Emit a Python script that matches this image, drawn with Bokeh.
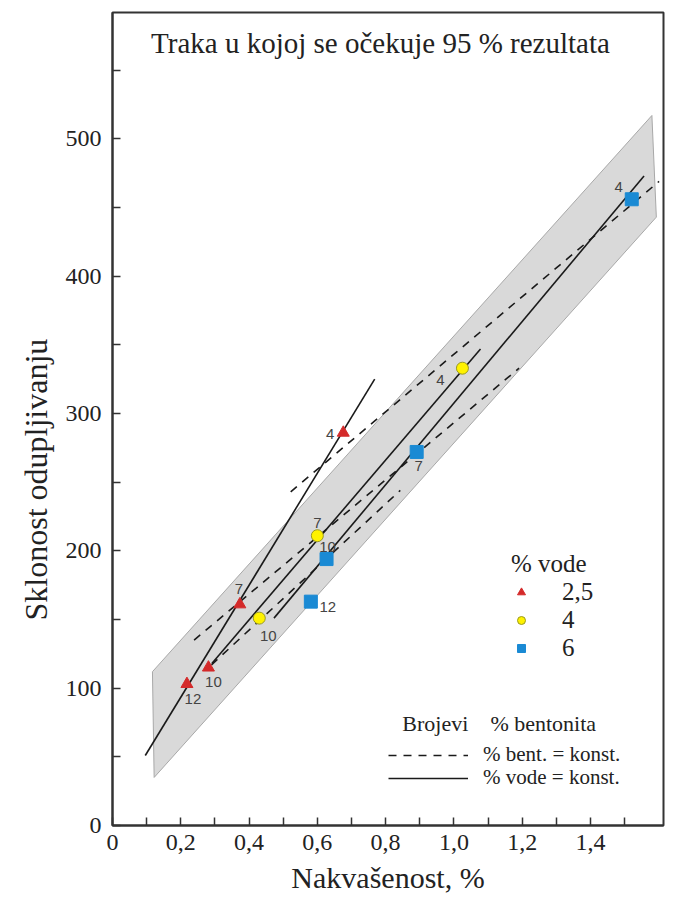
from bokeh.plotting import figure
from bokeh.models import (ColumnDataSource, FixedTicker, CustomJSTickFormatter,
                          Legend, LegendItem, Label, Range1d, Title)
from bokeh.core.properties import value
from bokeh.embed import file_html
from bokeh.resources import INLINE

# ---------------- data ----------------
band_x = [0.117, 1.580, 1.593, 0.122]
band_y = [112, 517, 443, 35]

red_x = [0.676, 0.373, 0.281, 0.218]        # 2,5 % vode
red_y = [286, 161, 115, 103]
red_bent = ["4", "7", "10", "12"]

yellow_x = [1.025, 0.600, 0.430]            # 4 % vode
yellow_y = [333, 211, 151]
yellow_bent = ["4", "7", "10"]

blue_x = [1.521, 0.891, 0.627, 0.581]       # 6 % vode
blue_y = [456, 272, 194, 163]
blue_bent = ["4", "7", "10", "12"]

# % vode = konst. (solid)
water_line_x = [[0.096, 0.768], [0.291, 1.078], [0.473, 1.557]]
water_line_y = [[51, 325], [118, 347], [151, 473]]
# % bent. = konst. (dashed)
bent_line_x = [[0.522, 1.601], [0.239, 1.191], [0.290, 0.843]]
bent_line_y = [[243, 469], [135, 333], [117, 244]]

x_ticks = [0, 0.2, 0.4, 0.6, 0.8, 1.0, 1.2, 1.4]
x_minor = [0.1, 0.3, 0.5, 0.7, 0.9, 1.1, 1.3, 1.5]
y_ticks = [0, 100, 200, 300, 400, 500]
y_minor = [50, 150, 250, 350, 450, 550]

water_labels = ["2,5", "4", "6"]

# label offsets (screen px)
red_dx = [-13, -1, 5, 6]
red_dy = [1, -15, 14, 15]
yellow_dx = [-22, 0, 9]
yellow_dy = [12, -13, 18]
blue_dx = [-13, 2, 1, 17]
blue_dy = [-12, 14, -12, 5]

SERIF = "Liberation Serif"
SANS = "Liberation Sans"

p = figure(width=666, height=900, output_backend="svg", toolbar_location=None,
           x_range=Range1d(0, 1.614), y_range=Range1d(0, 592),
           min_border_left=112, min_border_right=3, min_border_top=12,
           min_border_bottom=75)
p.xgrid.visible = False
p.ygrid.visible = False
p.outline_line_color = "#333333"
p.outline_line_width = 2
p.background_fill_color = "white"
p.border_fill_color = "white"

# band
p.patch(band_x, band_y, fill_color="#d9d9d9", line_color="#a8a8a8", line_width=1)

# lines
r_solid = p.multi_line(water_line_x, water_line_y, line_color="#1a1a1a", line_width=1.6)
r_dash = p.multi_line(bent_line_x, bent_line_y, line_color="#1a1a1a", line_width=1.6,
                      line_dash="8 7")

# points
src_r = ColumnDataSource(dict(x=red_x, y=red_y, t=red_bent, dx=red_dx, dy=red_dy))
src_y = ColumnDataSource(dict(x=yellow_x, y=yellow_y, t=yellow_bent, dx=yellow_dx, dy=yellow_dy))
src_b = ColumnDataSource(dict(x=blue_x, y=blue_y, t=blue_bent, dx=blue_dx, dy=blue_dy))

r_red = p.scatter("x", "y", source=src_r, marker="triangle", size=12,
                  fill_color="#d42a2a", line_color="#d42a2a")
r_yel = p.scatter("x", "y", source=src_y, marker="circle", size=12,
                  fill_color="#fff200", line_color="#9a9a20", line_width=1)
r_blu = p.scatter("x", "y", source=src_b, marker="square", size=13,
                  fill_color="#1a8ad4", line_color="#1a8ad4")

for s in (src_r, src_y, src_b):
    p.text("x", "y", text="t", source=s, x_offset="dx", y_offset="dy",
           text_font=value(SANS), text_font_size="15px", text_color="#444444",
           text_align="center", text_baseline="middle")

# axes
p.xaxis.ticker = FixedTicker(ticks=x_ticks, minor_ticks=x_minor)
p.xaxis.formatter = CustomJSTickFormatter(
    code="return tick == 0 ? '0' : tick.toFixed(1).replace('.', ',');")
p.yaxis.ticker = FixedTicker(ticks=y_ticks, minor_ticks=y_minor)
for ax in (p.xaxis[0], p.yaxis[0]):
    ax.major_tick_in = 8
    ax.major_tick_out = 0
    ax.minor_tick_in = 8
    ax.minor_tick_out = 0
    ax.major_tick_line_color = "#333333"
    ax.minor_tick_line_color = "#333333"
    ax.major_tick_line_width = 1.5
    ax.minor_tick_line_width = 1.5
    ax.axis_line_color = "#333333"
    ax.axis_line_width = 2
    ax.major_label_text_font = SERIF
    ax.major_label_text_font_size = "24px"
    ax.major_label_text_color = "#222222"
    ax.axis_label_text_font = SERIF
    ax.axis_label_text_font_style = "normal"
    ax.axis_label_text_color = "#222222"

p.xaxis.axis_label = "Nakvašenost, %"
p.xaxis.axis_label_text_font_size = "30px"
p.xaxis.major_label_standoff = 9
p.xaxis.axis_label_standoff = 8
p.yaxis.major_label_standoff = 11

# y axis title, placed lower than the frame centre as in the reference
p.add_layout(Title(text="Sklonost odupljivanju", align="left", offset=205,
                   standoff=17, text_font=SERIF, text_font_size="32px",
                   text_font_style="normal", text_color="#222222"), "left")

# title inside frame
p.add_layout(Label(x=0.785, y=570, text="Traka u kojoj se očekuje 95 % rezultata",
                   text_font=SERIF, text_font_size="29px", text_color="#222222",
                   text_align="center", text_baseline="middle"))

# legend for water
leg1 = Legend(items=[LegendItem(label=water_labels[0], renderers=[r_red]),
                     LegendItem(label=water_labels[1], renderers=[r_yel]),
                     LegendItem(label=water_labels[2], renderers=[r_blu])],
              title="% vode", location=(399, 163),
              title_text_font=SERIF, title_text_font_size="25px",
              title_text_font_style="normal", title_text_color="#222222",
              title_standoff=0,
              label_text_font=SERIF, label_text_font_size="25px", label_text_color="#222222",
              glyph_width=20, glyph_height=28, label_height=28, label_standoff=31,
              spacing=0, padding=0, margin=0,
              border_line_alpha=0, background_fill_alpha=0)
p.add_layout(leg1)

# legend for lines
leg_common = dict(label_text_font=SERIF, label_text_font_size="21px",
                  label_text_color="#222222", glyph_width=80, glyph_height=22,
                  label_height=22, label_standoff=15, spacing=0, padding=0, margin=0,
                  border_line_alpha=0, background_fill_alpha=0)
leg2 = Legend(items=[LegendItem(label="% bent. = konst.", renderers=[r_dash])],
              location=(276, 58), **leg_common)
leg3 = Legend(items=[LegendItem(label="% vode = konst.", renderers=[r_solid])],
              location=(276, 35), **leg_common)
p.add_layout(leg2)
p.add_layout(leg3)

p.add_layout(Label(x=0.849, y=74, text="Brojevi", text_font=SERIF,
                   text_font_size="22px", text_color="#222222", text_baseline="middle"))
p.add_layout(Label(x=1.107, y=74, text="% bentonita", text_font=SERIF,
                   text_font_size="22px", text_color="#222222", text_baseline="middle"))

open("out.html", "w").write(file_html(p, INLINE))
